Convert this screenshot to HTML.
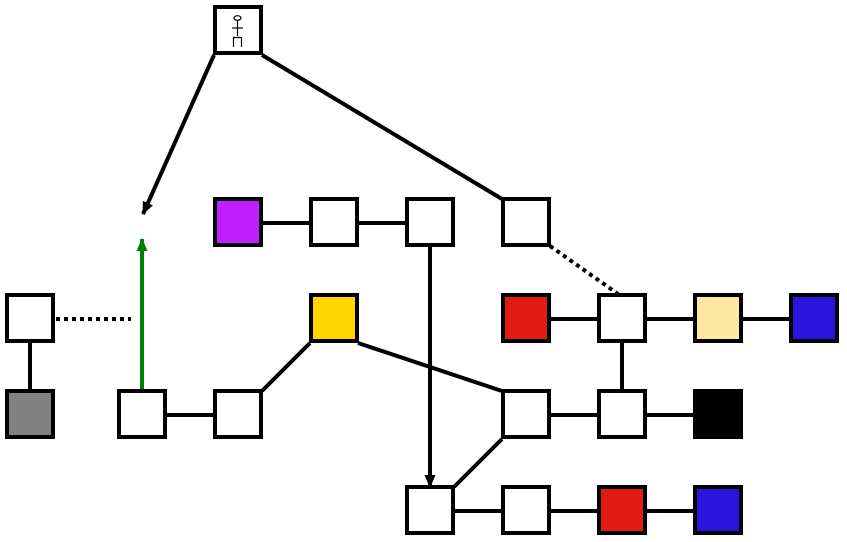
<!DOCTYPE html>
<html><head><style>html,body{margin:0;padding:0;background:#fff;}svg{display:block}</style></head>
<body>
<svg width="847" height="542" viewBox="0 0 847 542" xmlns="http://www.w3.org/2000/svg">
<defs>
<marker id="ab" markerWidth="13" markerHeight="11" refX="12" refY="5.5" orient="auto" markerUnits="userSpaceOnUse" viewBox="0 0 13 11"><path d="M0,0 L13,5.5 L0,11 z" fill="#000"/></marker>
<marker id="ag" markerWidth="13" markerHeight="11" refX="12" refY="5.5" orient="auto" markerUnits="userSpaceOnUse" viewBox="0 0 13 11"><path d="M0,0 L13,5.5 L0,11 z" fill="#008000"/></marker>
</defs>
<g stroke="#000" stroke-width="4" fill="none">
<line x1="214" y1="55" x2="143" y2="214" marker-end="url(#ab)"/>
<line x1="262" y1="55" x2="502" y2="199"/>
<line x1="430" y1="247" x2="430" y2="487" marker-end="url(#ab)"/>
<line x1="262" y1="223" x2="310" y2="223"/>
<line x1="358" y1="223" x2="406" y2="223"/>
<line x1="30" y1="343" x2="30" y2="391"/>
<line x1="166" y1="415" x2="214" y2="415"/>
<line x1="262" y1="391" x2="310" y2="343"/>
<line x1="358" y1="343" x2="502" y2="391"/>
<line x1="550" y1="415" x2="598" y2="415"/>
<line x1="646" y1="415" x2="694" y2="415"/>
<line x1="622" y1="343" x2="622" y2="391"/>
<line x1="550" y1="319" x2="598" y2="319"/>
<line x1="646" y1="319" x2="694" y2="319"/>
<line x1="742" y1="319" x2="790" y2="319"/>
<line x1="454" y1="487" x2="502" y2="439"/>
<line x1="454" y1="511" x2="502" y2="511"/>
<line x1="550" y1="511" x2="598" y2="511"/>
<line x1="646" y1="511" x2="694" y2="511"/>
<line x1="56" y1="319" x2="131" y2="319" stroke-dasharray="4 4"/>
<line x1="550" y1="246" x2="618" y2="294" stroke-dasharray="4 4"/>
</g>
<line x1="142" y1="391" x2="142" y2="239" stroke="#008000" stroke-width="4" marker-end="url(#ag)"/>
<g stroke="#000" stroke-width="4">
<rect x="215" y="7" width="46" height="46" fill="#fff"/>
<rect x="215" y="199" width="46" height="46" fill="#c020ff"/>
<rect x="311" y="199" width="46" height="46" fill="#fff"/>
<rect x="407" y="199" width="46" height="46" fill="#fff"/>
<rect x="503" y="199" width="46" height="46" fill="#fff"/>
<rect x="7" y="295" width="46" height="46" fill="#fff"/>
<rect x="311" y="295" width="46" height="46" fill="#ffd700"/>
<rect x="503" y="295" width="46" height="46" fill="#e01c14"/>
<rect x="599" y="295" width="46" height="46" fill="#fff"/>
<rect x="695" y="295" width="46" height="46" fill="#ffe9a0"/>
<rect x="791" y="295" width="46" height="46" fill="#2c14e0"/>
<rect x="7" y="391" width="46" height="46" fill="#808080"/>
<rect x="119" y="391" width="46" height="46" fill="#fff"/>
<rect x="215" y="391" width="46" height="46" fill="#fff"/>
<rect x="503" y="391" width="46" height="46" fill="#fff"/>
<rect x="599" y="391" width="46" height="46" fill="#fff"/>
<rect x="695" y="391" width="46" height="46" fill="#000"/>
<rect x="407" y="487" width="46" height="46" fill="#fff"/>
<rect x="503" y="487" width="46" height="46" fill="#fff"/>
<rect x="599" y="487" width="46" height="46" fill="#e01c14"/>
<rect x="695" y="487" width="46" height="46" fill="#2c14e0"/>
</g>
<g stroke="#000" stroke-width="1.2" fill="#fff">
<ellipse cx="237.5" cy="18" rx="3.5" ry="2.3"/>
<line x1="237.5" y1="20.5" x2="237.5" y2="36"/>
<line x1="232" y1="28" x2="243" y2="28"/>
<path d="M233.5,47 V37.5 H241.5 V47" fill="none"/>
</g>
</svg>
</body></html>
